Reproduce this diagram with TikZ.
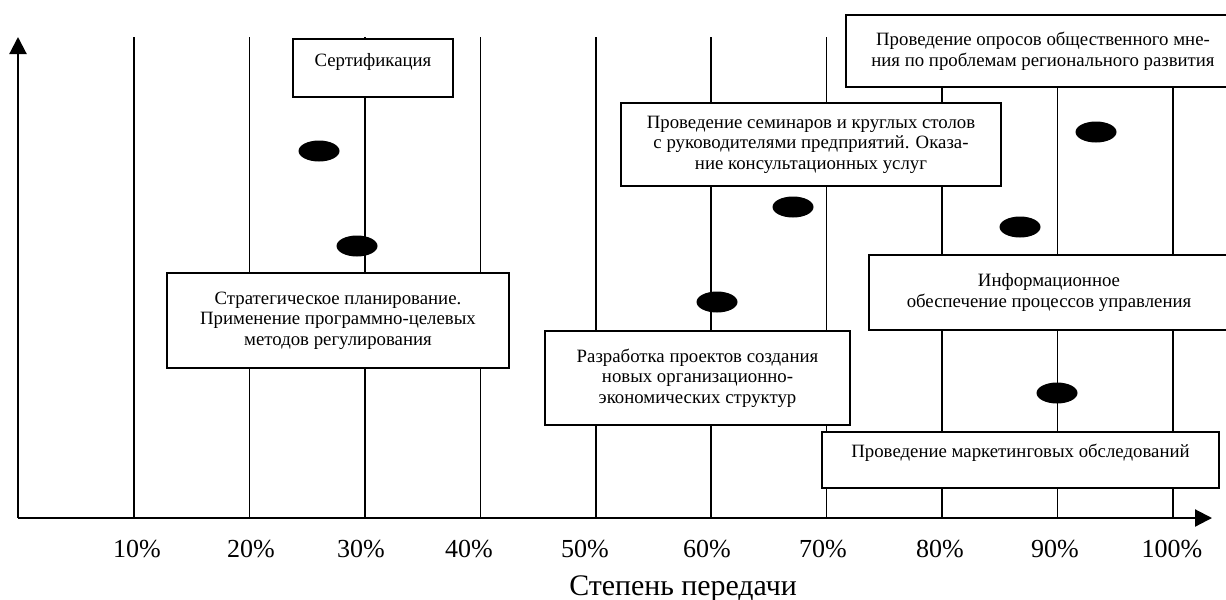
\documentclass[tikz,border=0pt]{standalone}
\usepackage{fontspec}
\setmainfont{Liberation Serif}
\usetikzlibrary{arrows.meta,shapes.geometric}

\begin{document}
\begin{tikzpicture}[x=0.02cm,y=-0.02cm,
  axis/.style={line width=1.2pt,-{Triangle[length=0.34cm,width=0.34cm]}},
  grid line/.style={line width=0.9pt},
  box/.style={draw,fill=white,line width=1pt,align=center,inner sep=2pt,
    font=\fontsize{10.7pt}{11.7pt}\selectfont},
  dot/.style={ellipse,fill=black,inner sep=0pt,minimum width=0.82cm,minimum height=0.42cm},
  pct/.style={anchor=base,font=\fontsize{14.8pt}{17pt}\selectfont}]
\useasboundingbox (0,0) rectangle (1226,599); % 画布大小
% 坐标轴的端点
\coordinate (O) at (18,518);
\coordinate (xend) at (1212,518);
\coordinate (yend) at (18,37);
% 竖线 10%--100%
\foreach \k in {1,...,10}
  \draw[grid line] ({18.5+115.45*\k},518) -- ({18.5+115.45*\k},37);
% 坐标轴
\draw[axis] (O) -- (xend); % x轴
\draw[axis] (O) -- (yend); % y轴
% 刻度标注
\foreach \x/\p in {137/10,251/20,361/30,469/40,585/50,707/60,823/70,940/80,1055/90,1172/100}
  \node[pct] (p\p) at (\x,557) {\p\%};
% 轴名称
\node[anchor=base,font=\fontsize{17pt}{20pt}\selectfont] (title) at (683,595) {Степень передачи};
% 方框
\node[box,minimum width=3.2cm,minimum height=1.16cm,text depth=9pt] (cert) at (373,68) {Сертификация};
\node[box,minimum width=6.84cm,minimum height=1.9cm] (strat) at (338,320.5)
  {Стратегическое планирование.\\Применение программно-целевых\\методов регулирования};
\node[box,minimum width=7.6cm,minimum height=1.66cm] (semin) at (811,144.5)
  {Проведение семинаров и круглых столов\\с руководителями предприятий. Оказа-\\ние консультационных услуг};
\node[box,minimum width=7.88cm,minimum height=1.44cm] (opros) at (1043,51)
  {Проведение опросов общественного мне-\\ния по проблемам регионального развития};
\node[box,minimum width=7.2cm,minimum height=1.5cm] (info) at (1049,292.5)
  {Информационное\\обеспечение процессов управления};
\node[box,minimum width=6.1cm,minimum height=1.88cm] (razr) at (697.5,378)
  {Разработка проектов создания\\новых организационно-\\экономических структур};
\node[box,minimum width=7.94cm,minimum height=1.12cm,text depth=10pt] (market) at (1020.5,460)
  {Проведение маркетинговых обследований};
% 黑点
\node[dot] (d1) at (319,151) {};
\node[dot] (d2) at (357,246) {};
\node[dot] (d3) at (793,207) {};
\node[dot] (d4) at (1096,132) {};
\node[dot] (d5) at (1020,227) {};
\node[dot] (d6) at (717,302) {};
\node[dot] (d7) at (1057,393) {};
\end{tikzpicture}
\end{document}
